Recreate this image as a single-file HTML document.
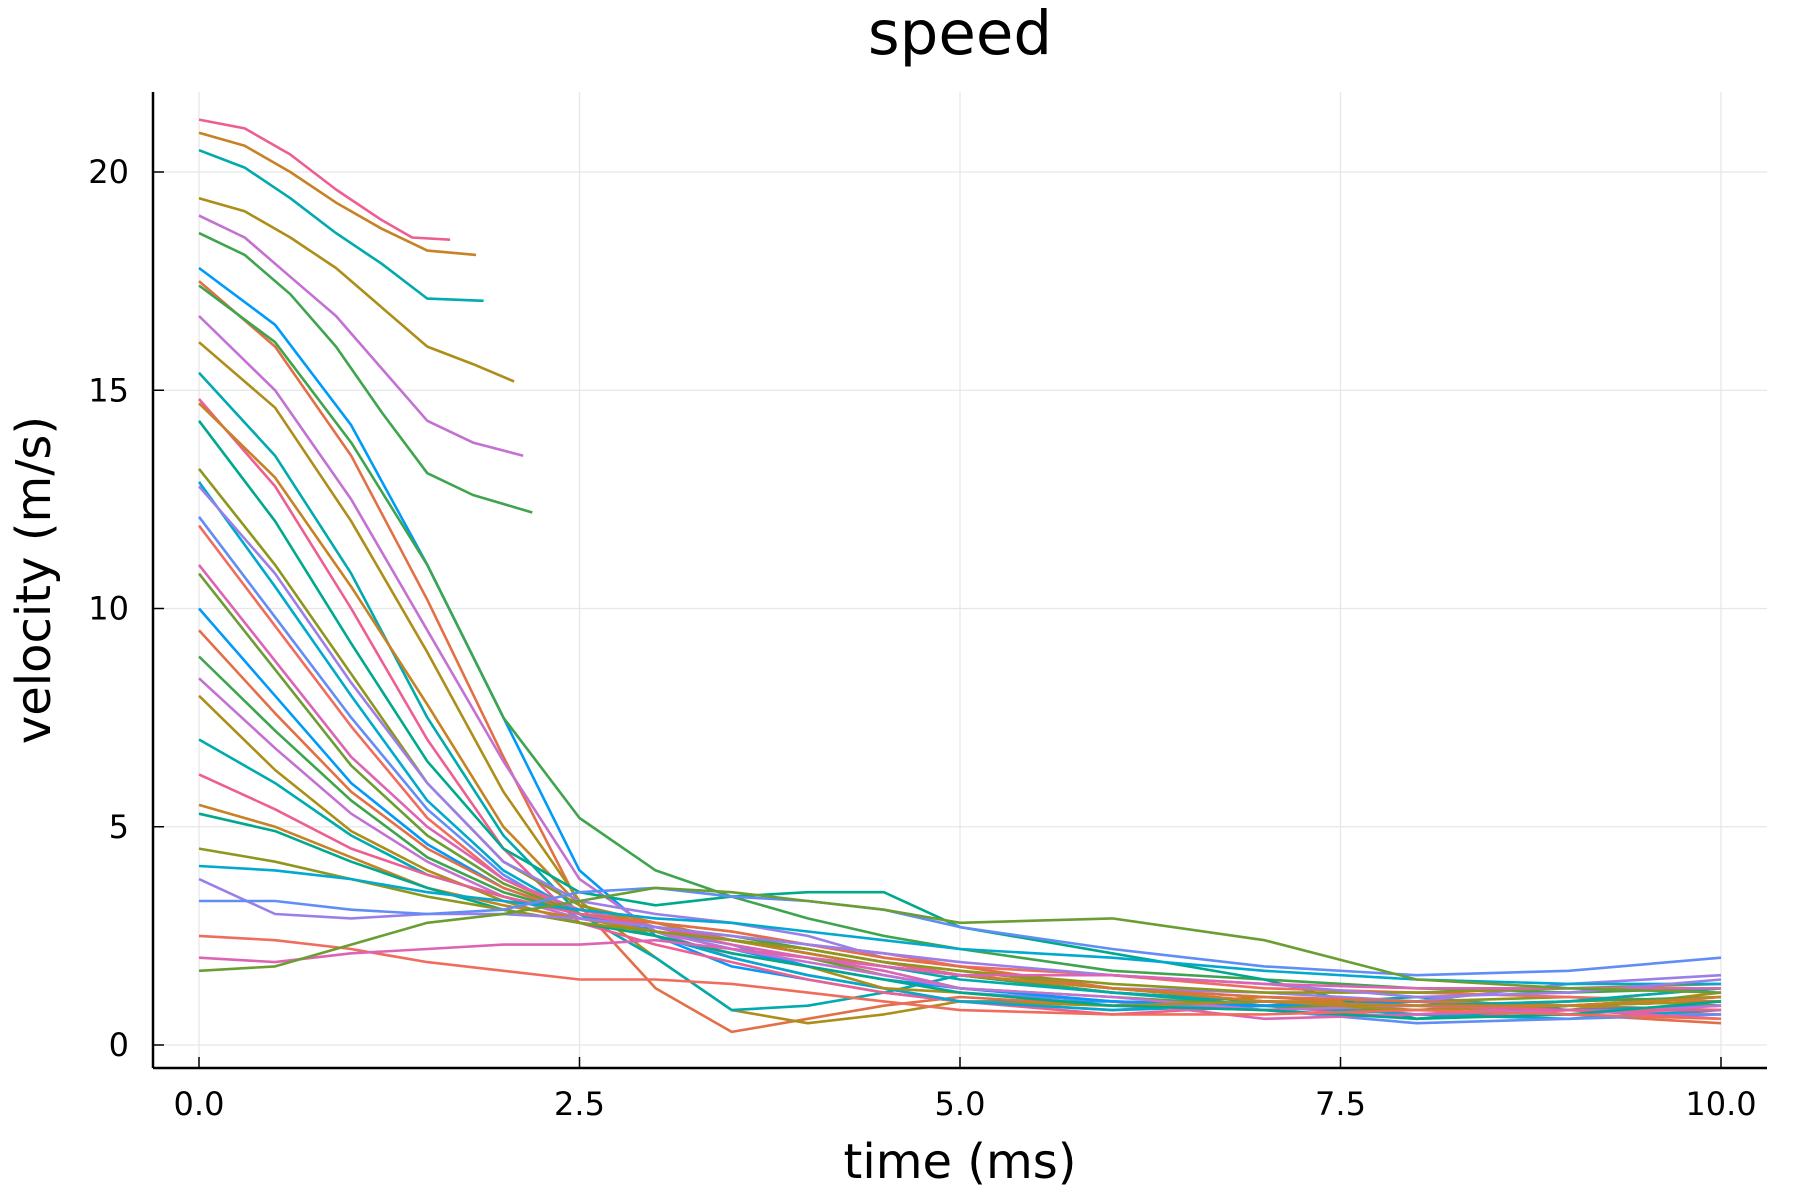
<!DOCTYPE html>
<html><head><meta charset="utf-8"><style>
html,body{margin:0;padding:0;background:#fff}
svg{display:block;font-family:"DejaVu Sans","Liberation Sans",sans-serif}
</style></head><body>
<svg id="chart" width="1800" height="1200" viewBox="0 0 1800 1200" xmlns="http://www.w3.org/2000/svg">
<rect x="0" y="0" width="1800" height="1200" fill="#fff"/>
<text x="960" y="54" font-size="61" text-anchor="middle">speed</text>
<g id="grid"></g>
<g id="series"></g>
<g id="axes"></g>
<text x="960" y="1178" font-size="48" text-anchor="middle">time (ms)</text>
<text x="0" y="0" font-size="48" text-anchor="middle" transform="translate(50,580) rotate(-90)">velocity (m/s)</text>
</svg>
<script>
const xTicks = [0, 2.5, 5, 7.5, 10];
const xTickLabels = ["0.0", "2.5", "5.0", "7.5", "10.0"];
const yTicks = [0, 5, 10, 15, 20];
const yTickLabels = ["0", "5", "10", "15", "20"];
const palette = ["#009afa","#e36f47","#3ea44e","#c371d2","#ac8e18","#00aaae","#ed5e93","#c68225","#00a98d","#8e971d","#00a9cd","#9b7fe9","#618df6","#f06c5d","#dd64b5","#6b9e32"];

const shortTimes = [
 [0,0.3,0.6,0.9,1.2,1.4,1.65],
 [0,0.3,0.6,0.9,1.2,1.5,1.82],
 [0,0.3,0.6,0.9,1.2,1.5,1.87],
 [0,0.3,0.6,0.9,1.2,1.5,1.8,2.07],
 [0,0.3,0.6,0.9,1.2,1.5,1.8,2.13],
 [0,0.3,0.6,0.9,1.2,1.5,1.8,2.19]
];
const shortValues = [
 [21.2,21.0,20.4,19.6,18.9,18.5,18.45],
 [20.9,20.6,20.0,19.3,18.7,18.2,18.1],
 [20.5,20.1,19.4,18.6,17.9,17.1,17.05],
 [19.4,19.1,18.5,17.8,16.9,16.0,15.6,15.2],
 [19.0,18.5,17.6,16.7,15.5,14.3,13.8,13.5],
 [18.6,18.1,17.2,16.0,14.5,13.1,12.6,12.2]
];
const shortColors = ["#ed5e93","#c68225","#00aaae","#ac8e18","#c371d2","#3ea44e"];

const longTimes = [0,0.5,1,1.5,2,2.5,3,3.5,4,4.5,5,6,7,8,9,10];
const longValues = [
 [17.8,16.5,14.2,11.0,7.5,4.0,2.5,1.8,1.5,1.2,1.0,1.0,0.9,0.8,0.9,1.1],
 [17.5,16.0,13.5,10.2,6.6,3.2,1.3,0.3,0.6,0.9,1.1,0.9,0.8,1.0,0.7,0.5],
 [17.4,16.1,13.8,11.0,7.5,5.2,4.0,3.4,2.9,2.5,2.2,1.7,1.5,1.3,1.2,1.3],
 [16.7,15.0,12.5,9.5,6.5,3.8,2.6,2.0,1.6,1.3,1.0,0.8,1.0,0.7,0.9,1.0],
 [16.1,14.6,12.0,9.0,5.8,3.3,2.0,0.8,0.5,0.7,1.0,0.9,1.1,0.9,0.8,1.2],
 [15.4,13.5,10.8,7.5,4.8,3.0,2.0,0.8,0.9,1.2,1.6,1.2,0.9,1.1,0.8,0.9],
 [14.8,12.8,10.0,7.0,4.5,2.8,2.3,1.9,1.5,1.2,1.0,0.7,0.9,0.6,0.8,0.7],
 [14.7,13.0,10.5,7.8,5.0,3.2,2.8,2.4,2.1,1.8,1.6,1.2,1.0,1.0,0.9,0.8],
 [14.3,12.0,9.2,6.5,4.5,3.5,3.2,3.4,3.5,3.5,2.7,2.1,1.5,0.6,0.9,1.0],
 [13.2,11.0,8.5,6.0,4.2,3.2,2.7,2.4,2.2,1.9,1.7,1.3,1.1,1.0,1.1,0.9],
 [12.9,10.5,8.0,5.6,4.0,3.0,2.5,2.0,1.6,1.3,1.0,0.8,0.9,0.7,0.6,0.8],
 [12.8,10.8,8.3,6.0,4.2,3.3,3.0,2.8,2.5,2.0,1.8,1.3,1.2,1.0,1.4,1.6],
 [12.1,9.8,7.5,5.4,3.9,2.9,2.6,2.3,1.8,1.5,1.2,1.0,0.8,0.5,0.6,0.7],
 [11.9,9.6,7.3,5.2,3.8,3.0,2.8,2.6,2.3,2.1,1.8,1.6,1.3,1.2,1.1,1.0],
 [11.0,8.8,6.6,5.0,3.8,3.1,2.7,2.3,2.0,1.7,1.3,1.0,0.6,0.7,0.8,0.6],
 [10.8,8.6,6.4,4.8,3.7,3.0,2.6,2.2,2.0,1.6,1.3,1.1,0.9,0.8,1.0,1.3],
 [10.0,8.0,6.0,4.6,3.6,3.0,2.6,2.2,1.8,1.5,1.3,1.0,0.9,1.0,0.8,0.9],
 [9.5,7.6,5.8,4.5,3.6,3.0,2.8,2.6,2.3,2.0,1.8,1.3,1.1,1.0,0.9,1.1],
 [8.9,7.2,5.6,4.3,3.5,3.0,2.7,2.5,2.2,1.9,1.6,1.2,1.0,0.9,1.0,1.1],
 [8.4,6.8,5.3,4.2,3.4,2.9,2.6,2.2,1.9,1.6,1.3,1.1,0.8,0.9,0.7,0.9],
 [8.0,6.3,4.9,4.0,3.3,2.8,2.5,2.1,1.8,1.3,1.2,0.9,1.0,0.8,0.9,1.0],
 [7.0,6.0,4.8,3.9,3.4,3.0,2.7,2.4,2.1,1.8,1.5,1.2,1.0,0.9,1.0,1.3],
 [6.2,5.4,4.5,3.9,3.4,3.0,2.7,2.4,2.2,1.9,1.6,1.3,1.0,0.9,0.8,0.8],
 [5.5,5.0,4.3,3.6,3.2,2.9,2.6,2.4,2.1,1.8,1.6,1.3,1.0,0.9,0.9,1.1],
 [5.3,4.9,4.2,3.6,3.1,2.8,2.5,2.1,1.8,1.5,1.2,0.9,0.8,0.6,0.7,1.0],
 [4.5,4.2,3.8,3.4,3.1,2.8,2.6,2.4,2.2,1.9,1.7,1.4,1.2,1.2,1.3,1.4],
 [4.1,4.0,3.8,3.5,3.3,3.1,2.9,2.8,2.6,2.4,2.2,2.0,1.7,1.5,1.4,1.4],
 [3.8,3.0,2.9,3.0,3.0,2.9,2.7,2.5,2.3,2.1,1.9,1.6,1.4,1.1,1.2,1.5],
 [3.3,3.3,3.1,3.0,3.1,3.5,3.6,3.4,3.3,3.1,2.7,2.2,1.8,1.6,1.7,2.0],
 [2.5,2.4,2.2,1.9,1.7,1.5,1.5,1.4,1.2,1.0,0.8,0.7,0.7,0.8,0.7,0.6],
 [2.0,1.9,2.1,2.2,2.3,2.3,2.4,2.2,2.0,1.8,1.6,1.6,1.4,1.3,1.3,1.3],
 [1.7,1.8,2.3,2.8,3.0,3.3,3.6,3.5,3.3,3.1,2.8,2.9,2.4,1.5,1.3,1.2]
];

const NS = "http://www.w3.org/2000/svg";
const L = 153, R = 1767, T = 92, B = 1068;
function xScale(t){ return 199 + t * 152.2; }
function yScale(v){ return 1045 - v * 43.65; }
function mk(tag, attrs, parent){
  const e = document.createElementNS(NS, tag);
  for (const k in attrs) e.setAttribute(k, attrs[k]);
  parent.appendChild(e); return e;
}
const grid = document.getElementById('grid');
const axes = document.getElementById('axes');
const series = document.getElementById('series');

xTicks.forEach((t, i) => {
  const x = xScale(t);
  const g = mk('line', {x1:x, x2:x, y1:T, y2:B, stroke:'#e6e6e6', 'stroke-width':1.2}, grid);
  
  
  const tk = mk('line', {x1:x, x2:x, y1:B, y2:B-11, stroke:'#000', 'stroke-width':1.5}, axes);
  
  
  const lb = mk('text', {x:x, y:1115, 'font-size':32, 'text-anchor':'middle'}, axes);
  lb.textContent = xTickLabels[i];
  
  
});
yTicks.forEach((v, i) => {
  const y = yScale(v);
  const g = mk('line', {x1:L, x2:R, y1:y, y2:y, stroke:'#e6e6e6', 'stroke-width':1.2}, grid);
  
  
  const tk = mk('line', {x1:L, x2:L+11, y1:y, y2:y, stroke:'#000', 'stroke-width':1.5}, axes);
  
  
  const lb = mk('text', {x:129, y:y+11, 'font-size':32, 'text-anchor':'end'}, axes);
  lb.textContent = yTickLabels[i];
  
  
});
const xa = mk('line', {x1:L, x2:R, y1:B, y2:B, stroke:'#000', 'stroke-width':2.5}, axes);


const ya = mk('line', {x1:L, x2:L, y1:T, y2:B, stroke:'#000', 'stroke-width':2.5}, axes);



function draw(ts, vs, color, name){
  const pts = ts.map((t, i) => xScale(t).toFixed(1) + ',' + yScale(vs[i]).toFixed(1)).join(' ');
  const p = mk('polyline', {points:pts, fill:'none', stroke:color, 'stroke-width':2.6, 'stroke-linejoin':'round'}, series);
  
  
}
longValues.forEach((vs, i) => draw(longTimes, vs, palette[i % palette.length], 'speed-line-' + (i + 1)));
shortValues.forEach((vs, i) => draw(shortTimes[i], vs, shortColors[i], 'short-speed-line-' + (i + 1)));
</script>
</body></html>
